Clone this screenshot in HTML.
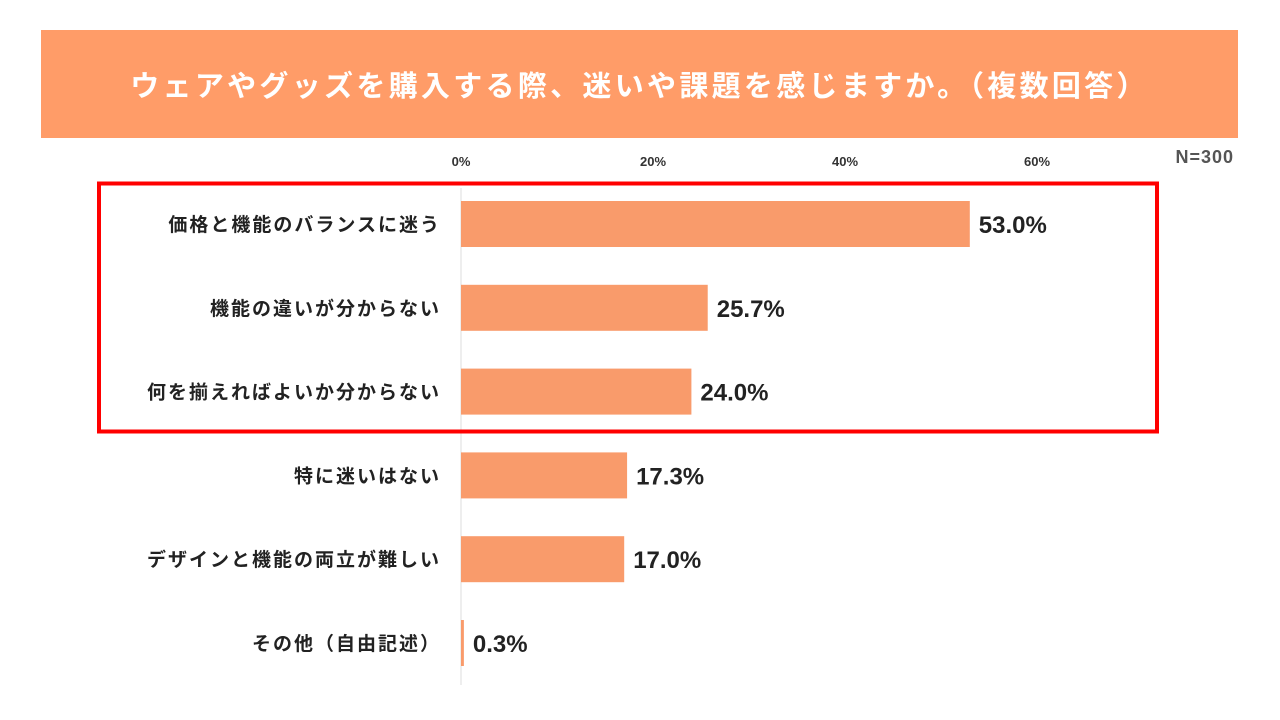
<!DOCTYPE html>
<html><head><meta charset="utf-8"><style>
body{margin:0;width:1280px;height:720px;background:#fff;overflow:hidden;font-family:"Liberation Sans","Noto Sans CJK JP",sans-serif;}
#banner{position:absolute;left:41px;top:30px;width:1197px;height:108px;background:#FF9C68;color:#fff;font-size:29px;font-weight:bold;display:flex;align-items:center;justify-content:center;letter-spacing:3.3px;}
svg{position:absolute;left:0;top:0;}
</style></head><body>
<div id="banner">ウェアやグッズを購入する際、迷いや課題を感じますか。（複数回答）</div>
<svg id="chart" width="1280" height="720"></svg>
<script>
const categories=["価格と機能のバランスに迷う","機能の違いが分からない","何を揃えればよいか分からない","特に迷いはない","デザインと機能の両立が難しい","その他（自由記述）"];
const values=[53.0,25.7,24.0,17.3,17.0,0.3];
const ticks=[0,20,40,60];
const NS="http://www.w3.org/2000/svg";
const svg=document.getElementById('chart');
const x=v=>461+v*9.6;
const yc=i=>224+i*83.8;
function mk(t,a,txt){const e=document.createElementNS(NS,t);for(const k in a)e.setAttribute(k,a[k]);if(txt!=null)e.textContent=txt;svg.appendChild(e);return e;}
const ax=mk('line',{x1:461,x2:461,y1:188,y2:685,stroke:'#e8e8e8','stroke-width':1.5});


ticks.forEach(t=>{const e=mk('text',{x:x(t),y:166,'text-anchor':'middle','font-size':13,'font-weight':'bold',fill:'#333'},t+'%');

});
const n=mk('text',{x:1234,y:163,'text-anchor':'end','font-size':18,'font-weight':'bold',fill:'#555','letter-spacing':1},'N=300');


categories.forEach((c,i)=>{
const l=mk('text',{x:441,y:yc(i)+7,'text-anchor':'end','font-size':19,'font-weight':'bold',fill:'#222','letter-spacing':2},c);


const b=mk('rect',{x:461,y:yc(i)-23,width:Math.max(values[i]*9.6,2),height:46,fill:'#F99B6B'});


const v=mk('text',{x:x(values[i])+9,y:yc(i)+9,'font-size':24,'font-weight':'bold',fill:'#222'},values[i].toFixed(1)+'%');


});
const hl=mk('rect',{x:99,y:183.5,width:1058,height:248,fill:'none',stroke:'#FF0000','stroke-width':4});


</script>
</body></html>
